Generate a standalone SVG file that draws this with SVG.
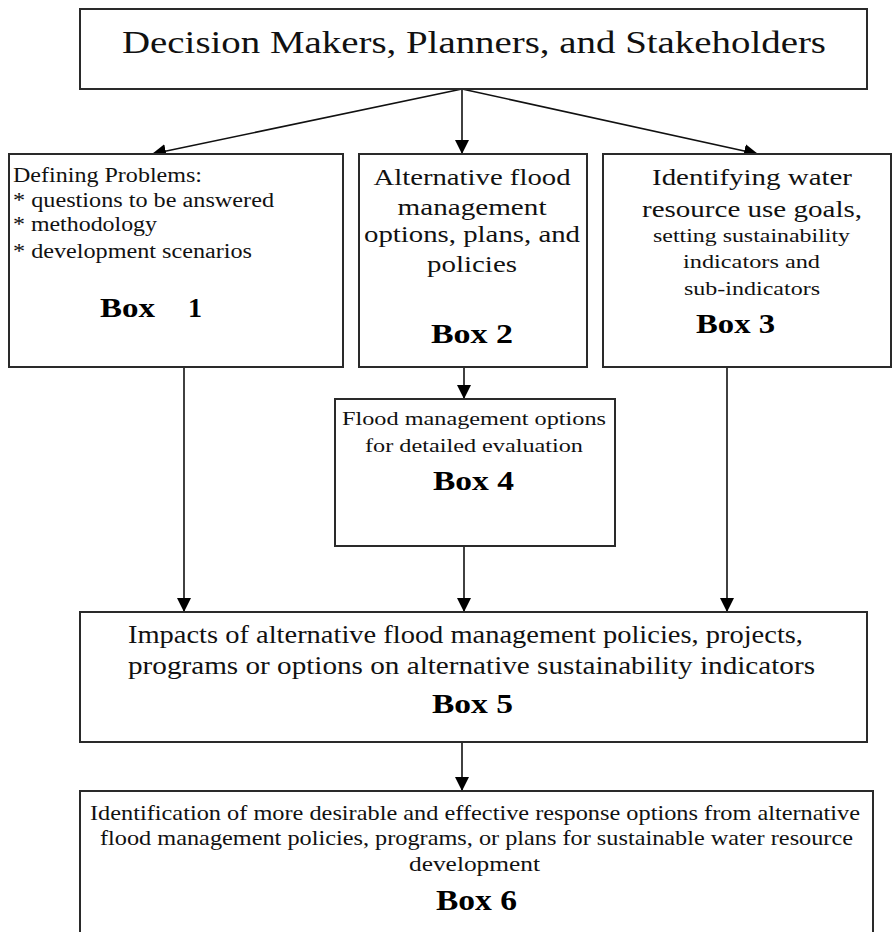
<svg xmlns="http://www.w3.org/2000/svg" width="893" height="932" viewBox="0 0 893 932">
<style>
.box{fill:#fff;stroke:#2a2a2a;stroke-width:2}
text{font-family:'Liberation Serif','LiberationSerif','Nimbus Roman','Nimbus Roman No9 L','FreeSerif','Noto Serif',Times,serif}
.t{fill:#111}
.b{font-weight:bold;fill:#000}
.c{text-anchor:middle}
.con line{stroke:#111;stroke-width:1.6;marker-end:url(#ah)}
</style>
<defs>
<marker id="ah" markerUnits="userSpaceOnUse" markerWidth="14" markerHeight="14" viewBox="0 0 14 14" refX="14" refY="7" orient="auto">
<path d="M0,0 L14,7 L0,14 Z" fill="#000"/>
</marker>
</defs>
<rect width="893" height="932" fill="#fff"/>
<g class="con">
<line x1="462" y1="89" x2="152" y2="154"/>
<line x1="462" y1="89" x2="462" y2="154"/>
<line x1="462" y1="89" x2="758" y2="154"/>
<line x1="464" y1="367" x2="464" y2="399"/>
<line x1="184" y1="367" x2="184" y2="612"/>
<line x1="464" y1="546" x2="464" y2="612"/>
<line x1="727" y1="367" x2="727" y2="612"/>
<line x1="462" y1="742" x2="462" y2="791"/>
</g>
<g id="top">
<rect class="box" x="80" y="9" width="787" height="80"/>
<text class="t c" x="474" y="53" font-size="32" textLength="704" lengthAdjust="spacingAndGlyphs">Decision Makers, Planners, and Stakeholders</text>
</g>
<g id="box1">
<rect class="box" x="9" y="154" width="334" height="213"/>
<text class="t" x="13" y="182" font-size="20" textLength="189" lengthAdjust="spacingAndGlyphs">Defining Problems:</text>
<text class="t" x="13" y="207" font-size="20" textLength="261" lengthAdjust="spacingAndGlyphs">* questions to be answered</text>
<text class="t" x="13" y="231" font-size="20" textLength="144" lengthAdjust="spacingAndGlyphs">* methodology</text>
<text class="t" x="13" y="258" font-size="20" textLength="239" lengthAdjust="spacingAndGlyphs">* development scenarios</text>
<text class="b" x="100" y="317" font-size="28" textLength="55" lengthAdjust="spacingAndGlyphs">Box</text>
<text class="b" x="188" y="317" font-size="28">1</text>
</g>
<g id="box2">
<rect class="box" x="359" y="154" width="228" height="213"/>
<text class="t c" x="472" y="185" font-size="24" textLength="197" lengthAdjust="spacingAndGlyphs">Alternative flood</text>
<text class="t c" x="472" y="215" font-size="24" textLength="149" lengthAdjust="spacingAndGlyphs">management</text>
<text class="t c" x="472" y="242" font-size="24" textLength="216" lengthAdjust="spacingAndGlyphs">options, plans, and</text>
<text class="t c" x="472" y="272" font-size="24" textLength="90" lengthAdjust="spacingAndGlyphs">policies</text>
<text class="b c" x="472" y="343" font-size="28" textLength="82" lengthAdjust="spacingAndGlyphs">Box 2</text>
</g>
<g id="box3">
<rect class="box" x="603" y="154" width="288" height="213"/>
<text class="t c" x="752" y="185" font-size="24" textLength="200" lengthAdjust="spacingAndGlyphs">Identifying water</text>
<text class="t c" x="752" y="217" font-size="24" textLength="220" lengthAdjust="spacingAndGlyphs">resource use goals,</text>
<text class="t c" x="751.5" y="242" font-size="19" textLength="197" lengthAdjust="spacingAndGlyphs">setting sustainability</text>
<text class="t c" x="751.5" y="268" font-size="19" textLength="137" lengthAdjust="spacingAndGlyphs">indicators and</text>
<text class="t c" x="752" y="295" font-size="19" textLength="136" lengthAdjust="spacingAndGlyphs">sub-indicators</text>
<text class="b c" x="735.5" y="333" font-size="28" textLength="79" lengthAdjust="spacingAndGlyphs">Box 3</text>
</g>
<g id="box4">
<rect class="box" x="335" y="399" width="280" height="147"/>
<text class="t c" x="474" y="425" font-size="18" textLength="264" lengthAdjust="spacingAndGlyphs">Flood management options</text>
<text class="t c" x="474" y="452" font-size="18" textLength="218" lengthAdjust="spacingAndGlyphs">for detailed evaluation</text>
<text class="b c" x="473.5" y="490" font-size="28" textLength="81" lengthAdjust="spacingAndGlyphs">Box 4</text>
</g>
<g id="box5">
<rect class="box" x="80" y="612" width="787" height="130"/>
<text class="t c" x="465.5" y="643" font-size="25" textLength="675" lengthAdjust="spacingAndGlyphs">Impacts of alternative flood management policies, projects,</text>
<text class="t c" x="471.5" y="674" font-size="25" textLength="687" lengthAdjust="spacingAndGlyphs">programs or options on alternative sustainability indicators</text>
<text class="b c" x="472.5" y="713" font-size="28" textLength="81" lengthAdjust="spacingAndGlyphs">Box 5</text>
</g>
<g id="box6">
<rect class="box" x="80" y="791" width="793" height="160"/>
<text class="t c" x="475" y="820" font-size="21" textLength="770" lengthAdjust="spacingAndGlyphs">Identification of more desirable and effective response options from alternative</text>
<text class="t c" x="476.5" y="845" font-size="21" textLength="753" lengthAdjust="spacingAndGlyphs">flood management policies, programs, or plans for sustainable water resource</text>
<text class="t c" x="474.5" y="871" font-size="21" textLength="131" lengthAdjust="spacingAndGlyphs">development</text>
<text class="b c" x="476.5" y="910" font-size="29" textLength="81" lengthAdjust="spacingAndGlyphs">Box 6</text>
</g>
</svg>
